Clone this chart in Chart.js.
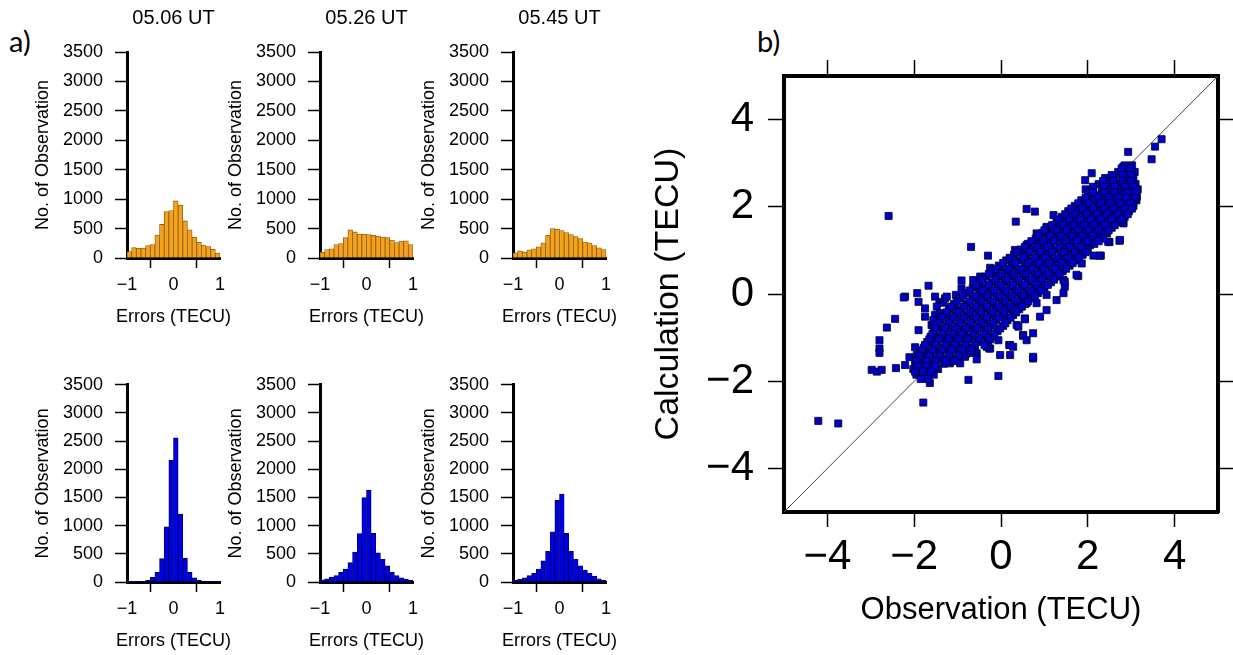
<!DOCTYPE html>
<html>
<head>
<meta charset="utf-8">
<script src="https://cdn.jsdelivr.net/npm/chart.js@4.4.0/dist/chart.umd.min.js"></script>
<style>
  body { margin: 0; background: #fff; width: 1233px; height: 655px; overflow: hidden; position: relative; }
  canvas { position: absolute; }
  .tag { position: absolute; font-family: Lato, "Open Sans", sans-serif; font-size: 29px; color: #000; line-height: 1; }
</style>
</head>
<body>
<div class="tag" style="left:9px;top:26px">a)</div>
<div class="tag" style="left:757px;top:26px">b)</div>
<canvas id="h0" width="235" height="328" style="left:0px;top:0px"></canvas>
<canvas id="h1" width="235" height="328" style="left:193px;top:0px"></canvas>
<canvas id="h2" width="235" height="328" style="left:386px;top:0px"></canvas>
<canvas id="h3" width="235" height="290" style="left:0px;top:362px"></canvas>
<canvas id="h4" width="235" height="290" style="left:193px;top:362px"></canvas>
<canvas id="h5" width="235" height="290" style="left:386px;top:362px"></canvas>
<canvas id="sc" width="593" height="655" style="left:640px;top:0px"></canvas>
<script>
// histogram bins (TECU), 0.1 wide
var binCenters = [-0.95, -0.85, -0.75, -0.65, -0.55, -0.45, -0.35, -0.25, -0.15, -0.05,
                  0.05, 0.15, 0.25, 0.35, 0.45, 0.55, 0.65, 0.75, 0.85, 0.95];
var panelTitles = ['05.06 UT', '05.26 UT', '05.45 UT'];

// top row (orange)
var errTop0506 = [110, 175, 165, 170, 210, 230, 390, 570, 790, 805, 970, 895, 630, 480, 350, 265, 220, 195, 150, 85];
var errTop0526 = [98, 144, 155, 230, 247, 345, 477, 443, 408, 402, 397, 385, 374, 356, 345, 305, 264, 287, 293, 230];
var errTop0545 = [86, 120, 103, 138, 155, 190, 259, 385, 500, 489, 466, 431, 397, 362, 328, 270, 259, 213, 172, 144];
// bottom row (blue)
var errBot0506 = [5, 5, 8, 12, 28, 85, 170, 415, 977, 2159, 2557, 1205, 426, 170, 74, 28, 10, 6, 4, 3];
var errBot0526 = [40, 57, 86, 115, 172, 230, 345, 530, 860, 1500, 1630, 862, 517, 402, 287, 172, 115, 75, 52, 29];
var errBot0545 = [29, 46, 75, 115, 155, 230, 374, 546, 890, 1450, 1560, 862, 546, 402, 287, 213, 155, 104, 58, 29];

var histYTicks = [0, 500, 1000, 1500, 2000, 2500, 3000, 3500];
var histXTicks = [-1, 0, 1];
var scatterTicks = [-4, -2, 0, 2, 4];
var diagLine = [[-5, -5], [5, 5]];

// [observation, calculation]
var scatterPoints = [
  [-4.21, -2.91], [-3.75, -2.97],
  [-2.98, -1.74], [-2.86, -1.78], [-2.75, -1.74], [-2.42, -1.70],
  [-2.80, -1.06], [-2.80, -1.25], [-2.80, -1.35], [-2.63, -0.77], [-2.44, -0.57],
  [-2.21, -0.06], [-2.24, -0.08], [-1.93, 0.02], [-1.90, -0.18], [-1.75, -0.33], [-1.75, -0.52], [-1.67, 0.19],
  [-1.52, -0.06], [-1.42, -0.18], [-1.33, -0.20], [-1.29, -0.10], [-1.52, -0.48], [-1.50, -0.64],
  [-1.90, -0.83], [-1.98, -1.22], [-2.11, -1.45], [-2.21, -1.63], [-1.94, -1.40], [-1.71, -1.40], [-1.75, -1.51],
  [-0.91, 0.31], [-1.04, -0.02], [-0.91, 0.13],
  [-1.64, -2.04], [-1.79, -2.49], [-0.75, -1.97], [-0.06, -1.88], [0.74, -1.48],
  [-2.59, 1.79], [0.59, 1.95], [0.78, 1.89], [0.34, 1.66], [-0.69, 1.08], [-0.30, 0.88], [-0.25, 0.60],
  [3.70, 3.55], [3.55, 3.38], [3.47, 3.09], [2.93, 3.26], [3.01, 2.75], [2.82, 2.92], [3.13, 2.23],
  [2.82, 1.64], [2.73, 1.22], [2.50, 1.19], [2.30, 0.88], [2.44, 1.39], [2.59, 1.61],
  [2.09, 2.77], [1.94, 2.61], [2.82, 1.62], [2.74, 1.24], [2.47, 1.20], [2.57, 1.58],
  [2.13, 0.88], [2.27, 0.88], [1.78, 0.41], [1.44, 0.32], [1.47, 0.17], [1.74, 0.44], [1.47, 0.28],
  [1.05, -0.02], [0.82, -0.21], [0.59, -0.21], [0.36, -0.71], [0.55, -0.56], [0.51, -0.94],
  [0.19, -1.17], [-0.02, -1.40], [-0.25, -1.25], [-0.56, -1.36], [-0.81, -1.38], [0.74, -1.44],
  [-1.18, -1.59], [-0.94, -1.59], [-0.83, -1.44], [-0.60, -1.32], [-0.56, -1.50], [-0.27, -1.25],
  [0.40, -0.75], [0.51, -0.96], [0.55, -0.58],
  [-1.48, -0.29], [-1.60, -0.71], [-1.33, -0.86], [-1.25, -1.06], [-1.10, -1.02],
  [-0.33, -1.21], [-0.06, -1.06], [0.21, -1.17],
  [1.59, 0.78], [1.86, 0.70], [2.28, 1.35], [2.05, 1.12], [1.21, 1.81], [1.51, 1.70],
  [1.05, 1.54], [1.13, 1.39], [0.82, 1.39], [0.82, 1.16], [0.44, 1.01], [0.59, 1.12],
  [0.21, 0.82], [0.32, 1.01], [-0.02, 0.63], [-0.10, 0.44], [-0.48, 0.40], [-0.64, 0.32],
  [-0.52, 0.17], [-0.41, 0.02], [-1.25, -0.06], [-1.10, -0.29], [-1.41, -0.44], [-1.56, -0.60],
  [1.44, 0.02], [1.28, -0.14], [1.05, -0.37], [0.90, -0.52], [0.74, -0.90], [0.59, -1.06],
  [0.28, -1.21], [0.21, -1.40],
  [2.90, 2.92], [3.01, 2.73], [2.82, 2.73], [2.59, 2.61], [2.40, 2.50], [2.74, 2.46], [2.97, 2.42],
  [3.09, 2.23], [3.05, 2.08], [2.90, 1.93], [2.67, 1.93], [2.36, 2.04], [2.17, 2.16], [2.51, 2.23],
  // main band
  [2.85, 2.95], [3.02, 2.95],
  [2.70, 2.80], [2.95, 2.80], [3.08, 2.80],
  [2.40, 2.66], [2.62, 2.66], [2.88, 2.66], [3.05, 2.66],
  [2.25, 2.52], [2.48, 2.52], [2.70, 2.52], [2.92, 2.52], [3.10, 2.52],
  [1.95, 2.40], [2.32, 2.40], [2.55, 2.40], [2.78, 2.40], [3.00, 2.40], [3.15, 2.40],
  [2.05, 2.27], [2.20, 2.27], [2.45, 2.27], [2.68, 2.27], [2.85, 2.27], [3.05, 2.27],
  [1.85, 2.15], [2.10, 2.15], [2.35, 2.15], [2.58, 2.15], [2.80, 2.15], [2.97, 2.15], [3.12, 2.15],
  [1.70, 2.02], [1.95, 2.02], [2.22, 2.02], [2.45, 2.02], [2.65, 2.02], [2.90, 2.02], [3.05, 2.02],
  [1.55, 1.90], [1.80, 1.90], [2.05, 1.90], [2.30, 1.90], [2.52, 1.90], [2.75, 1.90], [2.95, 1.90],
  [1.40, 1.77], [1.65, 1.77], [1.92, 1.77], [2.15, 1.77], [2.38, 1.77], [2.62, 1.77], [2.85, 1.77],
  [1.28, 1.65], [1.50, 1.65], [1.75, 1.65], [2.00, 1.65], [2.22, 1.65], [2.48, 1.65], [2.70, 1.65],
  [1.05, 1.52], [1.35, 1.52], [1.60, 1.52], [1.85, 1.52], [2.08, 1.52], [2.32, 1.52], [2.55, 1.52],
  [0.95, 1.40], [1.20, 1.40], [1.45, 1.40], [1.70, 1.40], [1.95, 1.40], [2.18, 1.40], [2.40, 1.40],
  [0.80, 1.27], [1.08, 1.27], [1.32, 1.27], [1.58, 1.27], [1.82, 1.27], [2.05, 1.27], [2.35, 1.27],
  [0.62, 1.15], [0.90, 1.15], [1.15, 1.15], [1.42, 1.15], [1.65, 1.15], [1.90, 1.15], [2.15, 1.15],
  [0.45, 1.02], [0.75, 1.02], [1.00, 1.02], [1.25, 1.02], [1.52, 1.02], [1.78, 1.02], [2.00, 1.02],
  [0.30, 0.90], [0.58, 0.90], [0.85, 0.90], [1.10, 0.90], [1.38, 0.90], [1.62, 0.90], [1.88, 0.90],
  [0.12, 0.77], [0.42, 0.77], [0.70, 0.77], [0.95, 0.77], [1.22, 0.77], [1.48, 0.77], [1.70, 0.77],
  [-0.05, 0.65], [0.25, 0.65], [0.55, 0.65], [0.80, 0.65], [1.05, 0.65], [1.30, 0.65], [1.58, 0.65],
  [-0.20, 0.52], [0.10, 0.52], [0.38, 0.52], [0.65, 0.52], [0.92, 0.52], [1.18, 0.52], [1.42, 0.52],
  [-0.35, 0.40], [-0.05, 0.40], [0.22, 0.40], [0.50, 0.40], [0.78, 0.40], [1.02, 0.40], [1.28, 0.40],
  [-0.50, 0.27], [-0.20, 0.27], [0.08, 0.27], [0.35, 0.27], [0.62, 0.27], [0.88, 0.27], [1.15, 0.27],
  [-0.65, 0.15], [-0.35, 0.15], [-0.08, 0.15], [0.20, 0.15], [0.48, 0.15], [0.75, 0.15], [1.00, 0.15],
  [-0.80, 0.02], [-0.50, 0.02], [-0.22, 0.02], [0.05, 0.02], [0.32, 0.02], [0.60, 0.02], [0.85, 0.02],
  [-0.95, -0.10], [-0.65, -0.10], [-0.38, -0.10], [-0.10, -0.10], [0.18, -0.10], [0.45, -0.10], [0.70, -0.10],
  [-1.08, -0.23], [-0.80, -0.23], [-0.52, -0.23], [-0.25, -0.23], [0.02, -0.23], [0.30, -0.23], [0.55, -0.23],
  [-1.20, -0.35], [-0.92, -0.35], [-0.65, -0.35], [-0.38, -0.35], [-0.12, -0.35], [0.15, -0.35], [0.42, -0.35],
  [-1.30, -0.48], [-1.05, -0.48], [-0.78, -0.48], [-0.52, -0.48], [-0.25, -0.48], [0.02, -0.48], [0.28, -0.48],
  [-1.40, -0.60], [-1.15, -0.60], [-0.90, -0.60], [-0.65, -0.60], [-0.38, -0.60], [-0.12, -0.60], [0.15, -0.60],
  [-1.48, -0.73], [-1.25, -0.73], [-1.00, -0.73], [-0.75, -0.73], [-0.50, -0.73], [-0.25, -0.73], [0.05, -0.73],
  [-1.55, -0.85], [-1.32, -0.85], [-1.08, -0.85], [-0.85, -0.85], [-0.60, -0.85], [-0.35, -0.85], [-0.08, -0.85],
  [-1.62, -0.98], [-1.40, -0.98], [-1.18, -0.98], [-0.95, -0.98], [-0.72, -0.98], [-0.45, -0.98], [-0.20, -0.98],
  [-1.70, -1.10], [-1.48, -1.10], [-1.25, -1.10], [-1.02, -1.10], [-0.80, -1.10], [-0.55, -1.10], [-0.30, -1.10],
  [-1.78, -1.23], [-1.55, -1.23], [-1.32, -1.23], [-1.10, -1.23], [-0.88, -1.23], [-0.65, -1.23],
  [-1.85, -1.35], [-1.62, -1.35], [-1.40, -1.35], [-1.18, -1.35], [-0.95, -1.35], [-0.72, -1.35],
  [-1.92, -1.48], [-1.70, -1.48], [-1.48, -1.48], [-1.25, -1.48], [-1.02, -1.48],
  [-1.98, -1.60], [-1.78, -1.60], [-1.55, -1.60], [-1.32, -1.60],
  [-2.02, -1.72], [-1.85, -1.72], [-1.65, -1.72], [-1.45, -1.72],
  [-1.95, -1.85], [-1.75, -1.85], [-1.55, -1.85],
  [-1.85, -1.95], [-1.68, -1.95],
  // band, in-between rows
  [2.78, 2.88], [2.98, 2.88],
  [2.55, 2.73], [2.80, 2.73], [3.00, 2.73],
  [2.35, 2.59], [2.58, 2.59], [2.80, 2.59], [3.00, 2.59],
  [2.12, 2.46], [2.38, 2.46], [2.62, 2.46], [2.85, 2.46], [3.05, 2.46],
  [2.00, 2.33], [2.12, 2.33], [2.38, 2.33], [2.60, 2.33], [2.92, 2.33], [3.10, 2.33],
  [1.95, 2.21], [2.25, 2.21], [2.48, 2.21], [2.70, 2.21], [2.90, 2.21], [3.08, 2.21],
  [1.78, 2.08], [2.02, 2.08], [2.30, 2.08], [2.52, 2.08], [2.75, 2.08], [2.98, 2.08],
  [1.62, 1.96], [1.88, 1.96], [2.12, 1.96], [2.38, 1.96], [2.60, 1.96], [2.85, 1.96], [3.02, 1.96],
  [1.48, 1.83], [1.72, 1.83], [1.98, 1.83], [2.22, 1.83], [2.45, 1.83], [2.70, 1.83], [2.92, 1.83],
  [1.32, 1.71], [1.58, 1.71], [1.83, 1.71], [2.08, 1.71], [2.30, 1.71], [2.55, 1.71], [2.78, 1.71],
  [1.18, 1.58], [1.42, 1.58], [1.68, 1.58], [1.92, 1.58], [2.15, 1.58], [2.40, 1.58], [2.62, 1.58],
  [1.00, 1.46], [1.28, 1.46], [1.52, 1.46], [1.78, 1.46], [2.02, 1.46], [2.25, 1.46], [2.48, 1.46],
  [0.88, 1.33], [1.12, 1.33], [1.38, 1.33], [1.63, 1.33], [1.88, 1.33], [2.12, 1.33],
  [0.70, 1.21], [0.98, 1.21], [1.22, 1.21], [1.50, 1.21], [1.75, 1.21], [1.98, 1.21], [2.25, 1.21],
  [0.55, 1.08], [0.82, 1.08], [1.08, 1.08], [1.35, 1.08], [1.58, 1.08], [1.85, 1.08],
  [0.38, 0.96], [0.65, 0.96], [0.92, 0.96], [1.18, 0.96], [1.45, 0.96], [1.70, 0.96], [1.95, 0.96],
  [0.20, 0.83], [0.50, 0.83], [0.78, 0.83], [1.02, 0.83], [1.30, 0.83], [1.55, 0.83], [1.80, 0.83],
  [0.05, 0.71], [0.33, 0.71], [0.62, 0.71], [0.88, 0.71], [1.12, 0.71], [1.40, 0.71], [1.65, 0.71],
  [-0.12, 0.58], [0.18, 0.58], [0.45, 0.58], [0.72, 0.58], [0.98, 0.58], [1.25, 0.58], [1.50, 0.58],
  [-0.28, 0.46], [0.02, 0.46], [0.30, 0.46], [0.58, 0.46], [0.85, 0.46], [1.10, 0.46], [1.35, 0.46],
  [-0.42, 0.33], [-0.12, 0.33], [0.15, 0.33], [0.42, 0.33], [0.70, 0.33], [0.95, 0.33], [1.22, 0.33],
  [-0.58, 0.21], [-0.28, 0.21], [0.00, 0.21], [0.28, 0.21], [0.55, 0.21], [0.82, 0.21], [1.08, 0.21],
  [-0.72, 0.08], [-0.42, 0.08], [-0.15, 0.08], [0.12, 0.08], [0.40, 0.08], [0.68, 0.08], [0.92, 0.08],
  [-0.88, -0.04], [-0.58, -0.04], [-0.30, -0.04], [-0.02, -0.04], [0.25, -0.04], [0.52, -0.04], [0.78, -0.04],
  [-1.02, -0.17], [-0.72, -0.17], [-0.45, -0.17], [-0.18, -0.17], [0.10, -0.17], [0.38, -0.17], [0.62, -0.17],
  [-1.15, -0.29], [-0.85, -0.29], [-0.58, -0.29], [-0.32, -0.29], [-0.05, -0.29], [0.22, -0.29], [0.48, -0.29],
  [-1.25, -0.42], [-0.98, -0.42], [-0.72, -0.42], [-0.45, -0.42], [-0.18, -0.42], [0.08, -0.42], [0.35, -0.42],
  [-1.35, -0.54], [-1.10, -0.54], [-0.85, -0.54], [-0.58, -0.54], [-0.32, -0.54], [-0.05, -0.54], [0.22, -0.54],
  [-1.45, -0.67], [-1.20, -0.67], [-0.95, -0.67], [-0.70, -0.67], [-0.45, -0.67], [-0.18, -0.67], [0.10, -0.67],
  [-1.52, -0.79], [-1.28, -0.79], [-1.05, -0.79], [-0.80, -0.79], [-0.55, -0.79], [-0.30, -0.79], [-0.02, -0.79],
  [-1.58, -0.92], [-1.35, -0.92], [-1.12, -0.92], [-0.90, -0.92], [-0.65, -0.92], [-0.40, -0.92], [-0.15, -0.92],
  [-1.65, -1.04], [-1.42, -1.04], [-1.20, -1.04], [-0.98, -1.04], [-0.75, -1.04], [-0.50, -1.04], [-0.25, -1.04],
  [-1.75, -1.17], [-1.52, -1.17], [-1.28, -1.17], [-1.05, -1.17], [-0.82, -1.17], [-0.60, -1.17], [-0.38, -1.17],
  [-1.82, -1.29], [-1.58, -1.29], [-1.35, -1.29], [-1.12, -1.29], [-0.90, -1.29], [-0.68, -1.29],
  [-1.88, -1.42], [-1.65, -1.42], [-1.42, -1.42], [-1.20, -1.42], [-0.98, -1.42],
  [-1.95, -1.54], [-1.72, -1.54], [-1.50, -1.54], [-1.28, -1.54], [-1.08, -1.54],
  [-1.92, -1.66], [-1.72, -1.66], [-1.52, -1.66],
  [-1.98, -1.78], [-1.80, -1.78], [-1.62, -1.78]
];

var FONT = '"Liberation Sans", Arial, Helvetica, sans-serif';
var histXTitle = 'Errors (TECU)';

function minusFmt(v) {
  return v < 0 ? '\u2212' + Math.abs(v) : String(v);
}

function fixTicks(list) {
  return function (scale) {
    scale.ticks = list.map(function (v) { return { value: v }; });
  };
}

// x title drawn by hand so it is not squeezed to the narrow plot width
var histXTitlePlugin = {
  id: 'histXTitle',
  afterDraw: function (chart) {
    var ctx = chart.ctx, a = chart.chartArea;
    ctx.save();
    ctx.font = '18px ' + FONT;
    ctx.fillStyle = '#000';
    ctx.textAlign = 'center';
    ctx.textBaseline = 'middle';
    ctx.fillText(histXTitle, (a.left + a.right) / 2, a.bottom + 59);
    ctx.restore();
  }
};

function drawHist(id, values, color, border, title) {
  var ctx = document.getElementById(id).getContext('2d');
  new Chart(ctx, {
    type: 'bar',
    data: {
      datasets: [{
        data: binCenters.map(function (x, i) { return { x: x, y: values[i] }; }),
        backgroundColor: color,
        borderColor: border,
        borderWidth: 0.8,
        borderSkipped: 'start',
        barPercentage: 1,
        categoryPercentage: 1
      }]
    },
    plugins: [histXTitlePlugin],
    options: {
      responsive: false,
      animation: false,
      layout: { padding: { top: title ? 0 : 14, right: 15, left: 0, bottom: 0 } },
      plugins: {
        legend: { display: false },
        tooltip: { enabled: false },
        title: {
          display: !!title,
          text: title,
          fullSize: false,
          color: '#000',
          font: { family: FONT, size: 20, weight: 'normal' },
          padding: { top: 6, bottom: 22 }
        }
      },
      scales: {
        x: {
          type: 'linear',
          min: -1, max: 1,
          offset: false,
          afterBuildTicks: fixTicks(histXTicks),
          ticks: { color: '#000', font: { family: FONT, size: 18 }, padding: 6, maxRotation: 0, callback: minusFmt },
          grid: { drawOnChartArea: false, drawTicks: true, tickLength: 10, tickColor: '#000', tickWidth: 1.5 },
          border: { display: true, color: '#000', width: 3 },
          afterFit: function (s) { s.height = 70; }
        },
        y: {
          min: 0, max: 3500,
          afterBuildTicks: fixTicks(histYTicks),
          ticks: { color: '#000', font: { family: FONT, size: 18 }, padding: 12, callback: function (v) { return String(v); } },
          grid: { drawOnChartArea: false, drawTicks: true, tickLength: 12, tickColor: '#000', tickWidth: 1.5 },
          border: { display: true, color: '#000', width: 3 },
          title: { display: true, text: 'No. of Observation', color: '#000', font: { family: FONT, size: 18 }, padding: { top: 32, bottom: 0 } },
          afterFit: function (s) { s.width = 127; }
        }
      }
    }
  });
}

var ORANGE = '#f4a21e', ORANGE_EDGE = '#8a5a08';
var BLUE = '#0000e6', BLUE_EDGE = '#00004a';

drawHist('h0', errTop0506, ORANGE, ORANGE_EDGE, panelTitles[0]);
drawHist('h1', errTop0526, ORANGE, ORANGE_EDGE, panelTitles[1]);
drawHist('h2', errTop0545, ORANGE, ORANGE_EDGE, panelTitles[2]);
drawHist('h3', errBot0506, BLUE, BLUE_EDGE, '');
drawHist('h4', errBot0526, BLUE, BLUE_EDGE, '');
drawHist('h5', errBot0545, BLUE, BLUE_EDGE, '');

// scatter: observation vs calculation
var tickGrid = function (len) {
  return { drawOnChartArea: false, drawTicks: true, tickLength: len, tickColor: '#000', tickWidth: 1.5 };
};
var frame = { display: true, color: '#000', width: 4 };

new Chart(document.getElementById('sc').getContext('2d'), {
  type: 'scatter',
  data: {
    datasets: [{
      data: scatterPoints.map(function (p) { return { x: p[0], y: p[1] }; }),
      pointStyle: 'rect',
      pointRadius: 5,
      backgroundColor: '#0000cc',
      borderColor: '#000026',
      borderWidth: 0.8,
      order: 0
    }, {
      data: diagLine.map(function (p) { return { x: p[0], y: p[1] }; }),
      showLine: true,
      borderColor: '#444',
      borderWidth: 1,
      pointRadius: 0,
      order: 1
    }]
  },
  options: {
    responsive: false,
    animation: false,
    layout: { padding: 0 },
    plugins: { legend: { display: false }, tooltip: { enabled: false } },
    scales: {
      x: {
        type: 'linear', position: 'bottom', min: -5, max: 5,
        afterBuildTicks: fixTicks(scatterTicks),
        ticks: { color: '#000', font: { family: FONT, size: 42 }, padding: 5, maxRotation: 0, callback: minusFmt },
        grid: tickGrid(15),
        border: frame,
        title: { display: true, text: 'Observation (TECU)', color: '#000', font: { family: FONT, size: 31 }, padding: { top: 0, bottom: 26 } },
        afterFit: function (s) { s.height = 143; }
      },
      x2: {
        type: 'linear', position: 'top', min: -5, max: 5,
        afterBuildTicks: fixTicks(scatterTicks),
        ticks: { display: false },
        grid: tickGrid(16),
        border: frame,
        afterFit: function (s) { s.height = 76; }
      },
      y: {
        type: 'linear', position: 'left', min: -5, max: 5,
        afterBuildTicks: fixTicks(scatterTicks),
        ticks: { color: '#000', font: { family: FONT, size: 42 }, padding: 14, callback: minusFmt },
        grid: tickGrid(16),
        border: frame,
        title: { display: true, text: 'Calculation (TECU)', color: '#000', font: { family: FONT, size: 34 }, padding: { top: 8, bottom: 0 } },
        afterFit: function (s) { s.width = 144; }
      },
      y2: {
        type: 'linear', position: 'right', min: -5, max: 5,
        afterBuildTicks: fixTicks(scatterTicks),
        ticks: { display: false },
        grid: tickGrid(15),
        border: frame,
        afterFit: function (s) { s.width = 15; }
      }
    }
  }
});
</script>
</body>
</html>
